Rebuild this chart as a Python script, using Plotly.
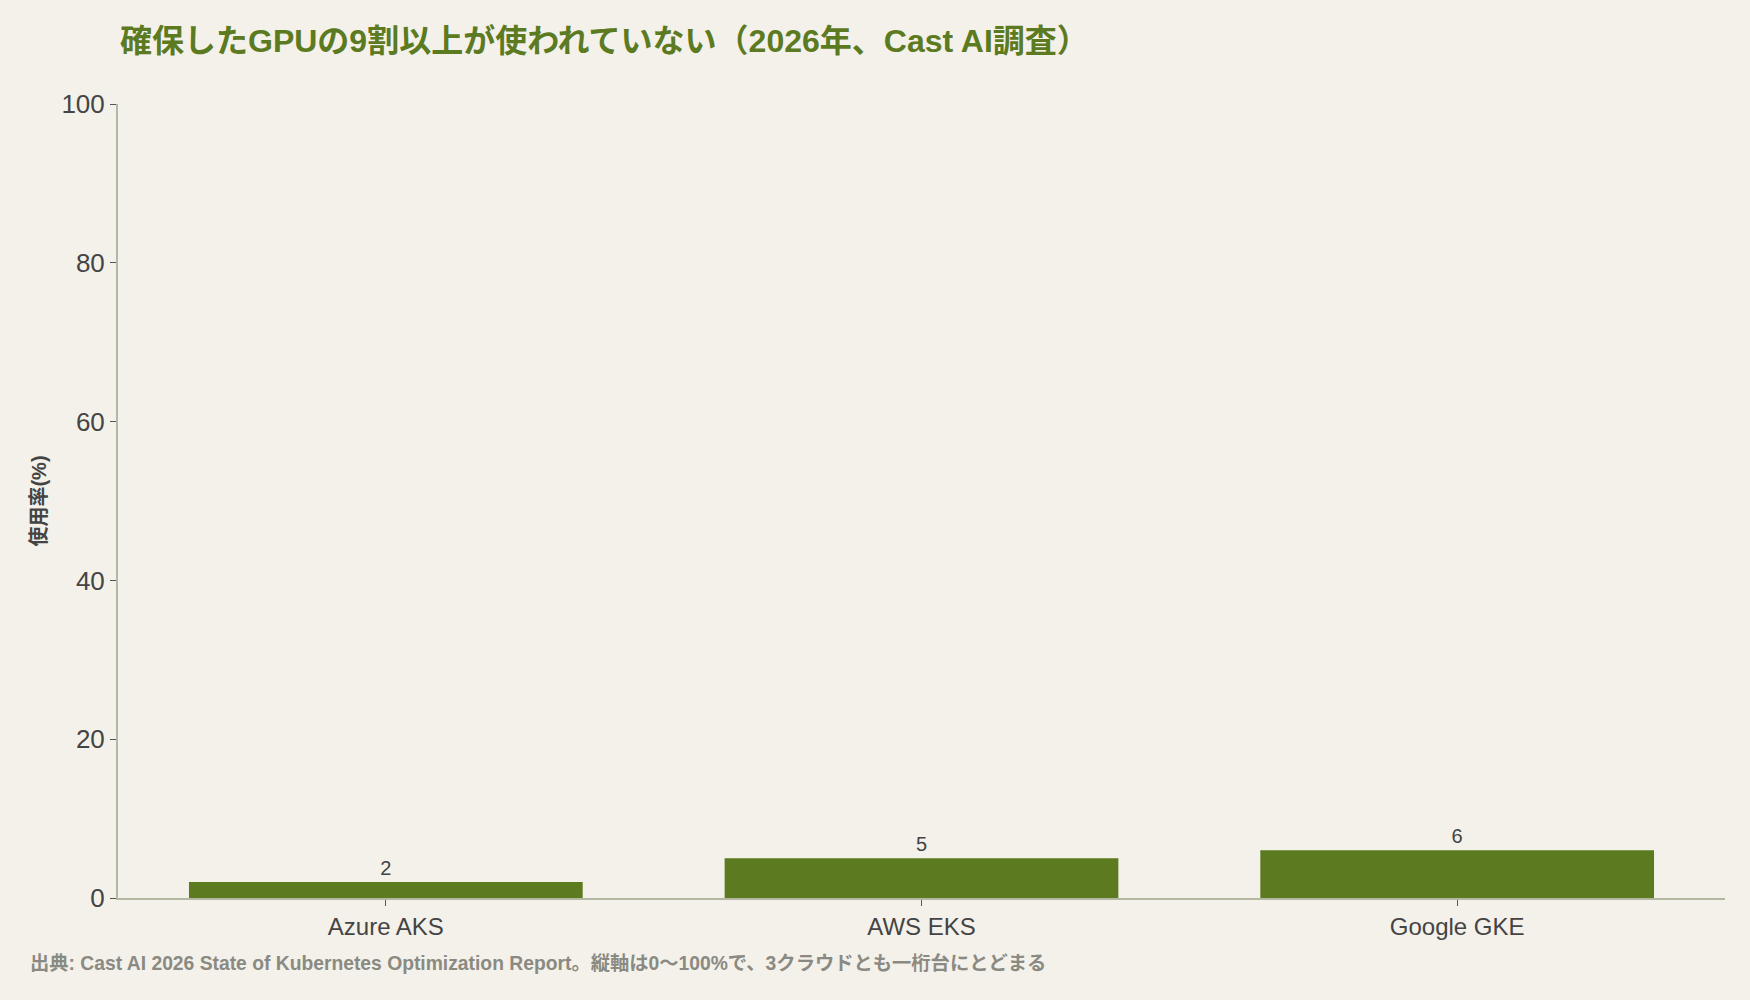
import plotly.graph_objects as go

# data
clouds = ['Azure AKS', 'AWS EKS', 'Google GKE']
usage_pct = [2, 5, 6]
y_ticks = [0, 20, 40, 60, 80, 100]

title_text = '確保したGPUの9割以上が使われていない（2026年、Cast AI調査）'
source_text = '出典: Cast AI 2026 State of Kubernetes Optimization Report。縦軸は0〜100%で、3クラウドとも一桁台にとどまる'

bg = '#f3f1ea'
green = '#5c7a1f'
# latin glyphs from Liberation Sans, japanese falls back to Noto CJK
font_jp = 'Liberation Sans, Noto Sans CJK JP'

fig = go.Figure()
fig.add_trace(go.Bar(
    x=clouds,
    y=usage_pct,
    marker=dict(color=green, line=dict(width=0)),
    text=[str(v) for v in usage_pct],
    textposition='outside',
    textfont=dict(size=20, color='#444444', family=font_jp),
    cliponaxis=False,
    hoverinfo='x+y',
))

fig.update_layout(
    width=1750,
    height=1000,
    paper_bgcolor=bg,
    plot_bgcolor=bg,
    margin=dict(l=118, r=25, t=104, b=102),
    bargap=0.265,
    showlegend=False,
    font=dict(family=font_jp, color='#444444'),
    title=dict(
        text='<b>' + title_text + '</b>',
        x=120 / 1750,
        xanchor='left',
        xref='container',
        y=1 - 41 / 1000,
        yanchor='middle',
        yref='container',
        font=dict(size=32, color=green, family=font_jp),
    ),
    xaxis=dict(
        showline=True,
        linecolor='#b3b8a3',
        linewidth=2,
        ticks='outside',
        ticklen=6,
        tickcolor='#555555',
        tickfont=dict(size=24, color='#444444'),
        showgrid=False,
        zeroline=False,
    ),
    yaxis=dict(
        range=[0, 100],
        tickvals=y_ticks,
        showline=True,
        linecolor='#b3b8a3',
        linewidth=2,
        ticks='outside',
        ticklen=6,
        tickcolor='#555555',
        tickfont=dict(size=26, color='#444444'),
        showgrid=False,
        zeroline=False,
        title=dict(text='<b>使用率(%)</b>', font=dict(size=20, color='#444444'), standoff=9),
    ),
)

fig.add_annotation(
    text='<b>' + source_text + '</b>',
    xref='paper', yref='paper',
    x=(28 - 118) / 1607, y=(898 - 963) / 794,
    xanchor='left', yanchor='middle',
    showarrow=False,
    font=dict(size=19.3, color='#8a8a82', family=font_jp),
)

fig.write_html('out.html', config={'displayModeBar': False},
               post_script="document.body.style.margin='0';")
